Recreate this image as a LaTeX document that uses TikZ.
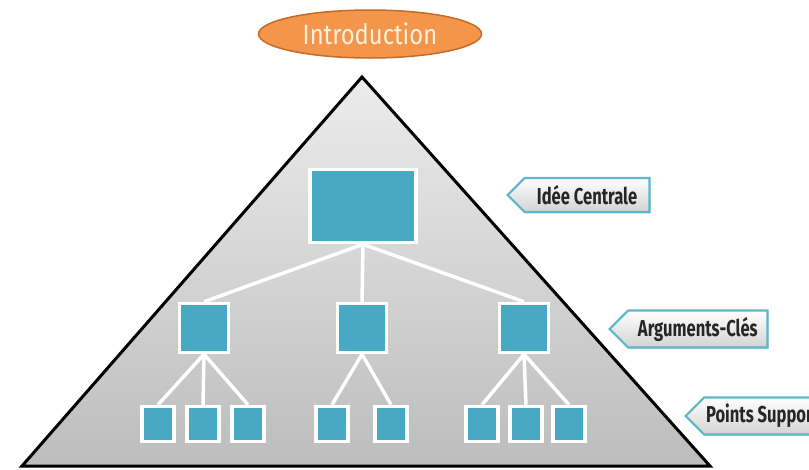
\documentclass[tikz,border=0pt]{standalone}
\usepackage{fontspec}
\setmainfont{Fira Sans}
\usepackage{tikz}
\usetikzlibrary{shapes.geometric,shapes.symbols,shadows}

\definecolor{boxteal}{HTML}{47A9C4}
\definecolor{tagteal}{HTML}{5DB6C9}
\definecolor{introorange}{HTML}{F3954A}
\definecolor{introedge}{HTML}{C56B28}
\definecolor{introtext}{HTML}{FDF1DE}
\definecolor{tagtext}{HTML}{262626}

\newcommand{\condtext}[2]{\scalebox{#1}[1]{#2}}

\begin{document}
\begin{tikzpicture}[x=1pt,y=-1pt]
\useasboundingbox (0,0) rectangle (809,469);
\clip (0,0) rectangle (809,469);

%Pyramid
\path [draw=black, line width=3pt, top color=gray!15, bottom color=gray!52]
	(362,77) -- (710,466) -- (22,466) -- cycle;

%Title
\node (intro) [ellipse, draw=introedge, line width=1.5pt, fill=introorange,
	minimum width=223pt, minimum height=48pt, inner sep=0pt,
	text=introtext, font=\fontsize{28}{28}\selectfont]
	at (370,34) {\condtext{0.85}{Introduction}};

\begin{scope}[every node/.style={rectangle, draw=white, line width=3.5pt, fill=boxteal,
	inner sep=0pt, drop shadow={opacity=0.25, shadow xshift=1pt, shadow yshift=-1pt}}]
	%Level 0
	\node (C_0) [minimum width=106pt, minimum height=73pt] at (363,206) {};

	%Level 1
	\node (A_1) [minimum width=49pt, minimum height=49pt] at (204,328) {};
	\node (A_2) [minimum width=49pt, minimum height=49pt] at (362,328) {};
	\node (A_3) [minimum width=49pt, minimum height=49pt] at (524,328) {};

	%Level 2
	\node (P_1) [minimum width=32pt, minimum height=35pt] at (158,424) {};
	\node (P_2) [minimum width=32pt, minimum height=35pt] at (203,424) {};
	\node (P_3) [minimum width=32pt, minimum height=35pt] at (248,424) {};

	\node (P_4) [minimum width=32pt, minimum height=35pt] at (332,424) {};
	\node (P_5) [minimum width=32pt, minimum height=35pt] at (391,424) {};

	\node (P_6) [minimum width=32pt, minimum height=35pt] at (482,424) {};
	\node (P_7) [minimum width=32pt, minimum height=35pt] at (526,424) {};
	\node (P_8) [minimum width=32pt, minimum height=35pt] at (569,424) {};
\end{scope}

\begin{scope}[style={draw=white, line width=3.5pt}]
	%Level 0 to 1
	\path [-] (C_0.south) edge node {} (A_1.north);
	\path [-] (C_0.south) edge node {} (A_2.north);
	\path [-] (C_0.south) edge node {} (A_3.north);

	%Level 1 to 2
	\path [-] (A_1.south) edge node {} (P_1.north);
	\path [-] (A_1.south) edge node {} (P_2.north);
	\path [-] (A_1.south) edge node {} (P_3.north);

	\path [-] (A_2.south) edge node {} (P_4.north);
	\path [-] (A_2.south) edge node {} (P_5.north);

	\path [-] (A_3.south) edge node {} (P_6.north);
	\path [-] (A_3.south) edge node {} (P_7.north);
	\path [-] (A_3.south) edge node {} (P_8.north);
\end{scope}

\begin{scope}[every node/.style={signal, signal to=west, signal from=nowhere,
	signal pointer angle=90, draw=tagteal, line width=2.2pt,
	top color=white, bottom color=gray!35, anchor=west, inner sep=0pt,
	text=tagtext, font=\fontsize{23}{23}\selectfont\bfseries,
	drop shadow={opacity=0.25, shadow xshift=1pt, shadow yshift=-1.5pt}}]
	%Labels
	\node (L_1) [minimum width=142pt, minimum height=34pt] at (506,195) {\condtext{0.72}{Idée Centrale}};
	\node (L_2) [minimum width=158pt, minimum height=37pt] at (608,329) {\condtext{0.72}{Arguments-Clés}};
	\node (L_3) [minimum height=37pt, inner xsep=2pt] at (684,416) {\condtext{0.72}{Points Support}};
\end{scope}
\end{tikzpicture}
\end{document}
